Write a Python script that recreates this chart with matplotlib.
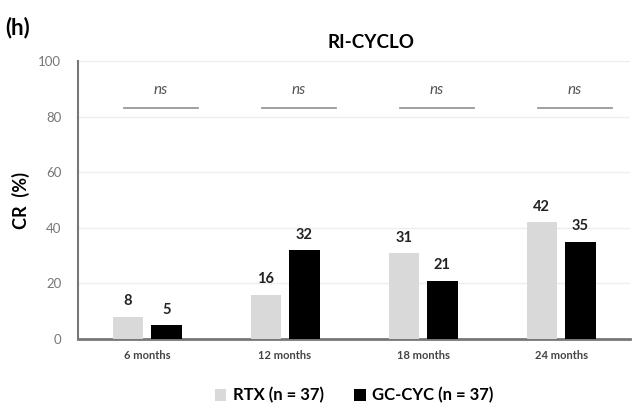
import matplotlib
matplotlib.use('Agg')
import matplotlib.pyplot as plt
import numpy as np

plt.rcParams['font.family'] = ['Lato', 'DejaVu Sans']

# data
categories = ['6 months', '12 months', '18 months', '24 months']
rtx = [8, 16, 31, 42]
gccyc = [5, 32, 21, 35]
sig_labels = ['ns', 'ns', 'ns', 'ns']

fig = plt.figure(figsize=(6.42, 4.09), dpi=100)
ax = fig.add_axes([0.1215, 0.171, 0.86, 0.68])

x = np.arange(len(categories))
w = 0.22
off = 0.14
b1 = ax.bar(x - off, rtx, w, color='#d9d9d9', label='RTX (n = 37)', zorder=3)
b2 = ax.bar(x + off, gccyc, w, color='black', label='GC-CYC (n = 37)', zorder=3)

# value labels
for bars in (b1, b2):
    for b in bars:
        ax.text(b.get_x() + b.get_width() / 2, b.get_height() + 3, str(int(b.get_height())),
                ha='center', va='bottom', fontsize=10.5, fontweight='bold', color='#222222')

# ns markers
for i, s in enumerate(sig_labels):
    ax.plot([x[i] - 0.17, x[i] + 0.37], [83, 83], color='#999999', lw=1.3, zorder=3)
    ax.text(x[i] + 0.1, 87, s, ha='center', va='bottom', fontsize=11, style='italic', color='#555555')

ax.set_xlim(-0.5, len(categories) - 0.5)
ax.set_ylim(0, 100)
ax.set_yticks(range(0, 101, 20))
ax.yaxis.grid(True, color='#eeeeee', lw=1, zorder=0)
ax.set_xticks(x)
ax.set_xticklabels(categories, fontsize=8, fontweight='bold', color='#444444')
ax.tick_params(axis='y', labelsize=9.5, colors='#777777', length=0, pad=12)
ax.tick_params(axis='x', length=0, pad=8)

for sp in ['top', 'right']:
    ax.spines[sp].set_visible(False)
ax.spines['left'].set_color('#777777')
ax.spines['left'].set_linewidth(1.5)
ax.spines['bottom'].set_color('#777777')
ax.spines['bottom'].set_linewidth(2)

ax.set_ylabel('CR  (%)', fontsize=13, fontweight='bold', labelpad=6)
ax.set_title('RI-CYCLO', fontsize=13.5, fontweight='bold', pad=9, x=0.53)
fig.text(0.008, 0.915, '(h)', fontsize=16, fontweight='bold')

ax.legend(loc='upper center', bbox_to_anchor=(0.5, -0.12), ncol=2, frameon=False,
          prop={'size': 12, 'weight': 'bold'}, handlelength=0.7, handleheight=0.7,
          handletextpad=0.4, columnspacing=1.8)

fig.savefig('out.png', dpi=100)
